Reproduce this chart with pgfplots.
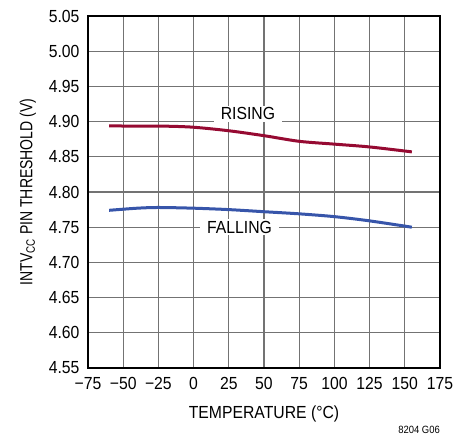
\documentclass[border=0pt]{standalone}
\usepackage{fontspec}
\setmainfont{Liberation Sans}[FakeStretch=0.9]
\newfontfamily\condfont{Liberation Sans}[FakeStretch=0.8]
\usepackage{pgfplots}
\pgfplotsset{compat=1.18}
\definecolor{risecol}{RGB}{150,10,50}
\definecolor{fallcol}{RGB}{55,85,170}
\definecolor{gridcol}{RGB}{115,115,115}
\begin{document}
\begin{tikzpicture}
\useasboundingbox (-88pt,-66pt) rectangle (382pt,368pt);
\begin{axis}[
  at={(0pt,0pt)}, anchor=south west,
  width=352pt, height=352pt, scale only axis,
  xmin=-75, xmax=175, ymin=4.55, ymax=5.05,
  xtick={-75,-50,...,175},
  xticklabels={−75,−50,−25,0,25,50,75,100,125,150,175},
  ytick={4.55,4.60,...,5.051},
  yticklabel style={xshift=-5pt,/pgf/number format/.cd,fixed,fixed zerofill,precision=2},
  /pgf/number format/assume math mode=true,
  tick label style={font=\fontsize{17.5}{17.5}\selectfont},
  xlabel style={font=\fontsize{17.5}{17.5}\selectfont, yshift=-9pt},
  ylabel style={font=\condfont\fontsize{17.5}{17.5}\selectfont, yshift=6pt},
  grid=major, major grid style={gridcol, line width=1.2pt},
  major tick length=0pt,
  axis line style={black, line width=1.6pt},
  xlabel={TEMPERATURE (°C)},
  ylabel={INTV\textsubscript{CC} PIN THRESHOLD (V)},
  xticklabel style={yshift=-6pt},
  clip=false,
]
\addplot[risecol, line width=3pt, smooth, tension=0.5] coordinates {
(-60,4.894) (-40,4.8935) (-20,4.8935) (0,4.892) (25,4.887) (50,4.880) (75,4.872) (100,4.868) (125,4.864) (155,4.857)};
\addplot[fallcol, line width=3pt, smooth, tension=0.5] coordinates {
(-60,4.774) (-40,4.777) (-25,4.778) (0,4.777) (25,4.775) (50,4.772) (75,4.769) (100,4.765) (125,4.759) (155,4.750)};
\node[fill=white, inner xsep=7pt, inner ysep=2pt, font=\fontsize{17.5}{17.5}\selectfont] at (axis cs:38.6,4.911) {RISING};
\node[fill=white, inner xsep=7pt, inner ysep=2pt, font=\fontsize{17.5}{17.5}\selectfont] at (axis cs:32.6,4.750) {FALLING};
\node[anchor=base east, font=\fontsize{10.5}{10.5}\selectfont, inner sep=0pt] at ([yshift=-65pt]rel axis cs:1,0) {8204 G06};
\end{axis}
\end{tikzpicture}
\end{document}
